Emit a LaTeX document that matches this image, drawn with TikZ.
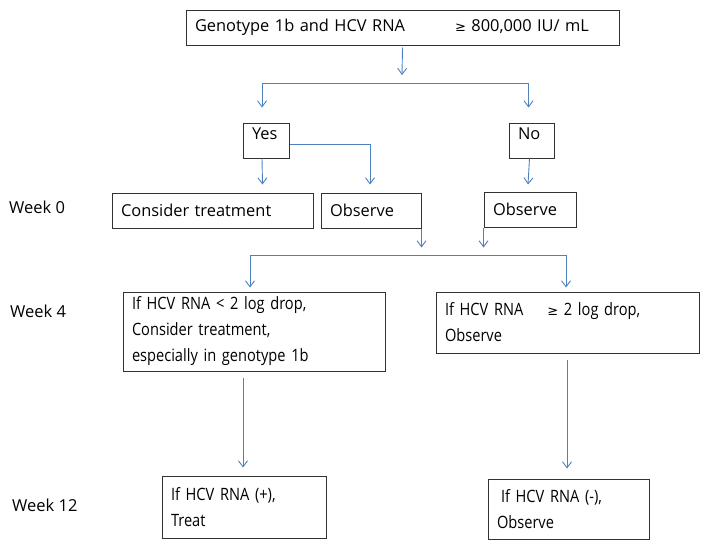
\documentclass[tikz,border=0pt]{standalone}
\usepackage{fontspec}
\setmainfont{Open Sans}
\newfontfamily\symfont{DejaVu Sans}
\newfontfamily\narrowfont[FakeStretch=0.86]{Open Sans}
\usetikzlibrary{arrows.meta}
\definecolor{linkblue}{RGB}{79,129,189}
\definecolor{boxgray}{RGB}{50,50,50}

\begin{document}
\begin{tikzpicture}[x=1pt, y=-1pt,
        box/.style={rectangle, draw=boxgray, line width=1pt, inner xsep=9pt, inner ysep=0pt, align=left, font=\fontsize{16.4}{26}\selectfont},
        stagebox/.style={box, font=\narrowfont\fontsize{17}{26}\selectfont},
        weeklabel/.style={anchor=west, inner sep=0pt, font=\fontsize{16.5}{20}\selectfont},
        arrow/.style={-{Straight Barb[length=6pt, width=9pt]}, linkblue, line width=0.9pt}
    ]
        \useasboundingbox (0,0) rectangle (709,549);

        % Screening
        \node[box, minimum width=433, minimum height=35, text width=415] (screen) at (402.5,27.5) {Genotype 1b and HCV RNA\hspace{50pt}{\symfont\fontsize{13}{14}\selectfont ≥} 800,000 IU/ mL};
        \coordinate (split1) at (402,75);
        \coordinate (bar1) at (402,83);

        % Yes / No
        \node[box, minimum width=46, minimum height=35, text width=28, text depth=14] (yes) at (266,140.5) {Yes};
        \node[box, minimum width=45, minimum height=35, text width=27, text depth=14] (no) at (531.5,140.5) {No};

        % Week 0
        \node[weeklabel] (week0) at (9,207) {Week 0};
        \node[box, minimum width=201, minimum height=35, text width=183] (consider) at (212.5,210.5) {Consider treatment};
        \node[box, minimum width=100, minimum height=35, text width=82] (observeA) at (371,210.5) {Observe};
        \node[box, minimum width=92, minimum height=35, text width=74] (observeB) at (530,209.5) {Observe};
        \coordinate (bar2) at (421,255);

        % Week 4
        \node[weeklabel] (week4) at (10,311) {Week 4};
        \node[stagebox, minimum width=262, minimum height=79, text width=244] (drop) at (254,331.5) {If HCV RNA < 2 log drop,\\Consider treatment,\\especially in genotype 1b};
        \node[stagebox, minimum width=263, minimum height=61, text width=245] (nodrop) at (567.5,322.5) {If HCV RNA\hspace{24pt}{\symfont\fontsize{13}{14}\selectfont ≥} 2 log drop,\\Observe};

        % Week 12
        \node[weeklabel] (week12) at (12,505) {Week 12};
        \node[stagebox, minimum width=164, minimum height=62, text width=146] (treat) at (244,507) {If HCV RNA (+),\\Treat};
        \node[stagebox, minimum width=161, minimum height=60, text width=143] (observeC) at (568.5,509) {\hspace{4pt}If HCV RNA (-),\\Observe};

        % Arrows from screening
        \draw[arrow] ([yshift=-2]screen.south) -- (split1);
        \draw[arrow] (bar1) -| ([xshift=-4, yshift=15]yes.north);
        \draw[arrow] (bar1) -| ([xshift=-3, yshift=15]no.north);

        % Arrows to week 0
        \draw[arrow] ([xshift=-4]yes.south) -- ([xshift=-4+54, yshift=8]consider.north);
        \draw[arrow] (yes.east |- 0,144) -| ([yshift=8]observeA.north -| 370,0);
        \draw[arrow] ([xshift=-2]no.south) -- ([xshift=-2, yshift=7]observeB.north);

        % Arrows to week 4
        \draw[arrow] (observeA.south east) -- ++(0,19);
        \draw[arrow] (observeB.south west) -- ++(0,20);
        \draw[arrow] (bar2) -| ([yshift=4]drop.north -| 250,0);
        \draw[arrow] (bar2) -| ([yshift=4]nodrop.north -| 566,0);

        % Arrows to week 12
        \draw[arrow] ([yshift=-6]drop.south -| 243,0) -- ([yshift=8]treat.north -| 243,0);
        \draw[arrow] ([yshift=-6]nodrop.south -| 567,0) -- ([yshift=10]observeC.north -| 567,0);

    \end{tikzpicture}
\end{document}
